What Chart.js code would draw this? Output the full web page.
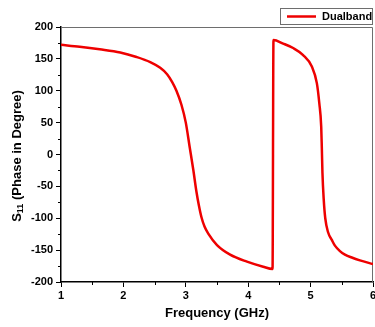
<!DOCTYPE html>
<html>
<head>
<meta charset="utf-8">
<script src="https://cdn.jsdelivr.net/npm/chart.js@4.4.0/dist/chart.umd.min.js"></script>
<style>
  html, body { margin: 0; padding: 0; background: #fff; }
  #wrap { width: 375px; height: 327px; }
</style>
</head>
<body>
<div id="wrap"><canvas id="chart" width="375" height="327"></canvas></div>
<script>
// frequency (GHz) and S11 phase (deg)
const freq = [1.0, 1.3, 1.62, 1.95, 2.21, 2.43, 2.59, 2.70, 2.78, 2.85, 2.93, 3.00, 3.06, 3.12, 3.17, 3.21, 3.25, 3.30, 3.36, 3.50, 3.71, 3.98, 4.24, 4.39,
  4.405, 4.56, 4.72, 4.88, 5.02, 5.10, 5.14, 5.17, 5.18, 5.19, 5.21, 5.235, 5.28, 5.34, 5.39, 5.47, 5.55, 5.67, 5.79, 6.0];
const phase = [172, 169, 165, 160, 153, 145, 136, 126, 114, 100, 78, 50, 13, -24, -58, -80, -98, -113, -124, -142, -157, -168, -176, -179.5,
  179.5, 174, 167, 156, 138, 112, 80, 44, 10, -29, -70, -100, -122, -134, -143, -151.5, -157, -162, -166, -172];
const xTicks = [1, 2, 3, 4, 5, 6];
const yTicks = [-200, -150, -100, -50, 0, 50, 100, 150, 200];
const seriesName = 'Dualband';

const FONT = '"Liberation Sans", Arial, sans-serif';
const RED = '#ee0000';

const framePlugin = {
  id: 'frame',
  beforeDatasetsDraw(chart) {
    const {ctx, chartArea: a} = chart;
    ctx.save();
    ctx.strokeStyle = '#6e6e6e';
    ctx.lineWidth = 1;
    ctx.beginPath();
    ctx.moveTo(a.left, a.top + 0.5);
    ctx.lineTo(a.right - 0.5, a.top + 0.5);
    ctx.lineTo(a.right - 0.5, a.bottom);
    ctx.stroke();

    // minor ticks, outward
    const xs = chart.scales.x, ys = chart.scales.y;
    ctx.strokeStyle = '#000';
    ctx.lineWidth = 1;
    ctx.beginPath();
    for (let v = 1.5; v < 6; v += 1) {
      const px = Math.round(xs.getPixelForValue(v)) + 0.5;
      ctx.moveTo(px, a.bottom);
      ctx.lineTo(px, a.bottom + 3);
    }
    for (let v = -175; v < 200; v += 50) {
      const py = Math.round(ys.getPixelForValue(v)) + 0.5;
      ctx.moveTo(a.left, py);
      ctx.lineTo(a.left - 3, py);
    }
    ctx.stroke();
    ctx.restore();
  },
  afterDraw(chart) {
    const {ctx} = chart;
    // y axis title with subscript
    ctx.save();
    ctx.translate(17, 156);
    ctx.rotate(-Math.PI / 2);
    ctx.fillStyle = '#000';
    ctx.textBaseline = 'middle';
    const big = 'bold 13px ' + FONT, small = 'bold 9px ' + FONT;
    ctx.font = big;
    const wS = ctx.measureText('S').width;
    const rest = ' (Phase in Degree)';
    const wR = ctx.measureText(rest).width;
    ctx.font = small;
    const w11 = ctx.measureText('11').width;
    let x = -(wS + w11 + wR) / 2;
    ctx.font = big;
    ctx.fillText('S', x, 0);
    x += wS;
    ctx.font = small;
    ctx.fillText('11', x, 4);
    x += w11;
    ctx.font = big;
    ctx.fillText(rest, x, 0);
    ctx.restore();

    // legend box
    const ds = chart.data.datasets[0];
    ctx.save();
    ctx.strokeStyle = '#6e6e6e';
    ctx.lineWidth = 1;
    ctx.strokeRect(280.5, 8.5, 92, 16);
    ctx.strokeStyle = ds.borderColor;
    ctx.lineWidth = 2.5;
    ctx.beginPath();
    ctx.moveTo(287, 16.5);
    ctx.lineTo(316, 16.5);
    ctx.stroke();
    ctx.fillStyle = '#000';
    ctx.font = 'bold 11px ' + FONT;
    ctx.textBaseline = 'middle';
    ctx.fillText(ds.label, 322, 17);
    ctx.restore();
  }
};

new Chart(document.getElementById('chart'), {
  type: 'line',
  data: {
    datasets: [{
      label: seriesName,
      data: freq.map((f, i) => ({x: f, y: phase[i]})),
      borderColor: RED,
      backgroundColor: RED,
      borderWidth: 2.5,
      pointRadius: 0,
      cubicInterpolationMode: 'monotone',
      fill: false,
    }],
  },
  options: {
    responsive: false,
    animation: false,
    events: [],
    layout: {padding: {top: 27, right: 2, left: 0, bottom: 0}},
    plugins: {
      legend: {display: false},
      tooltip: {enabled: false},
    },
    scales: {
      x: {
        type: 'linear',
        min: 1,
        max: 6,
        afterBuildTicks: (scale) => { scale.ticks = xTicks.map((v) => ({value: v})); },
        afterFit: (scale) => {
          scale.height = 45;
          scale.paddingLeft = 0;
          scale.paddingRight = 0;
        },
        grid: {drawOnChartArea: false, drawTicks: true, tickLength: 5, tickColor: '#000', tickWidth: 1},
        border: {color: '#000', width: 1.5},
        ticks: {color: '#000', padding: 2, maxRotation: 0, font: {family: FONT, size: 11, weight: 'bold'}},
        title: {
          display: true,
          text: 'Frequency (GHz)',
          color: '#000',
          padding: {top: 0, bottom: 6},
          font: {family: FONT, size: 13, weight: 'bold'},
        },
      },
      y: {
        type: 'linear',
        min: -200,
        max: 200,
        afterBuildTicks: (scale) => { scale.ticks = yTicks.map((v) => ({value: v})); },
        afterFit: (scale) => {
          scale.width = 61;
          scale.paddingTop = 0;
          scale.paddingBottom = 0;
        },
        grid: {drawOnChartArea: false, drawTicks: true, tickLength: 5, tickColor: '#000', tickWidth: 1},
        border: {color: '#000', width: 1.5},
        ticks: {color: '#000', padding: 3, font: {family: FONT, size: 11, weight: 'bold'}},
      },
    },
  },
  plugins: [framePlugin],
});
</script>
</body>
</html>
